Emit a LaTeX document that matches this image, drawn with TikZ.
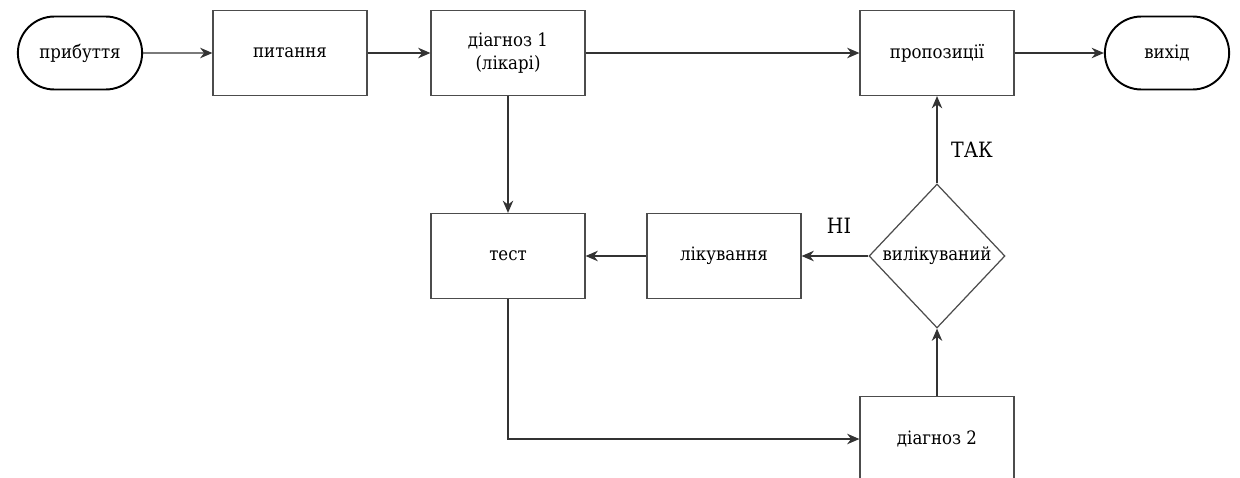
\documentclass[tikz,border=0pt]{standalone}
\usepackage{fontspec}
\setmainfont{DejaVu Serif}
\newfontfamily\chartfont{DejaVu Serif Condensed}
\usetikzlibrary{shapes.geometric,shapes.misc,arrows.meta}

\begin{document}
\begin{tikzpicture}[x=0.02cm,y=-0.02cm,
  every node/.style={font=\chartfont\fontsize{10.5}{13}\selectfont},
  box/.style={draw=black!70,line width=0.7pt,minimum width=3.08cm,minimum height=1.7cm,align=center,inner sep=0pt},
  terminal/.style={rounded rectangle,draw=black,line width=1.1pt,minimum width=2.72cm,minimum height=1.46cm},
  decision/.style={diamond,draw=black!70,line width=0.7pt,minimum width=2.72cm,minimum height=2.88cm,inner sep=0pt},
  line/.style={draw=black!80,line width=0.7pt,-{Stealth[length=7pt,width=6pt]}}]
\clip (0,0) rectangle (1240,477); % page frame, cuts the lowest box

% top row
\node[terminal] (arrive) at (80,53) {прибуття};
\node[box] (feed) at (290,53) {питання};
\node[box] (diag1) at (508,53) {діагноз 1\\(лікарі)};
\node[box] (offer) at (937,53) {пропозиції};
\node[terminal] (leave) at (1167,53) {вихід};

% treatment loop
\node[box] (test) at (508,256) {тест};
\node[box] (treat) at (724,256) {лікування};
\node[decision] (cured) at (937,256) {вилікуваний};
\node[box] (diag2) at (937,439) {діагноз 2};

% branch labels
\node[font=\chartfont\fontsize{12}{14}\selectfont] (yes) at (972,150) {ТАК};
\node[font=\chartfont\fontsize{12}{14}\selectfont] (no) at (839,226) {НІ};

\draw[line] (arrive) -- (feed);
\draw[line] (feed) -- (diag1);
\draw[line] (diag1) -- (offer);
\draw[line] (offer) -- (leave);
\draw[line] (diag1) -- (test);
\draw[line] (cured) -- (treat); % no
\draw[line] (treat) -- (test);
\draw[line] (cured) -- (offer); % yes
\draw[line] (diag2) -- (cured);
\draw[line] (test) |- (diag2);
\end{tikzpicture}
\end{document}
